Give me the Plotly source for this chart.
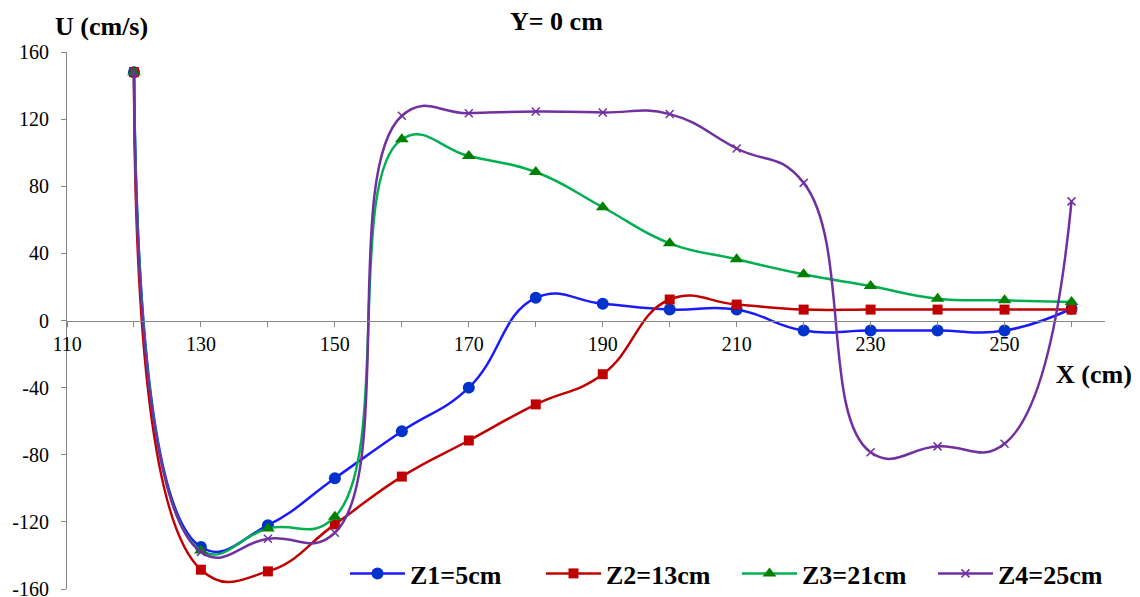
import plotly.graph_objects as go

x_cm = [120, 130, 140, 150, 160, 170, 180, 190, 200, 210, 220, 230, 240, 250, 260]
z1 = [148, -135, -122, -94, -66, -40, 13.5, 10, 6.5, 6.5, -6, -6, -6, -6, 7]
z2 = [148, -148.5, -149.5, -121.5, -93, -71.5, -50, -32, 12.5, 9.5, 6.5, 6.5, 6.5, 6.5, 6.5]
z3 = [148, -137, -124, -117, 108, 98, 88.5, 67.5, 46, 36.5, 27.5, 20.5, 13, 12, 11]
z4 = [148, -138, -130, -126.5, 122, 123.5, 124.5, 124, 123, 102.5, 82, -78.5, -75, -73.5, 71]

series_names = ["Z1=5cm", "Z2=13cm", "Z3=21cm", "Z4=25cm"]
series_values = [z1, z2, z3, z4]
line_colors = ["#1a1aff", "#c00000", "#00b050", "#7030a0"]
marker_colors = ["#0033cc", "#c00000", "#008000", "#7030a0"]
marker_symbols = ["circle", "square", "triangle-up", "x-thin"]
marker_sizes = [12, 10, 12, 8]

y_tickvals = [-160, -120, -80, -40, 0, 40, 80, 120, 160]
y_ticktext = ["-160", "-120", "-80", "-40", "0", "40", "80", "120", "160"]

FONT = "Liberation Serif"

fig = go.Figure()
for name, vals, lc, mc, sym, ms in zip(series_names, series_values, line_colors,
                                      marker_colors, marker_symbols, marker_sizes):
    marker = dict(color=mc, symbol=sym, size=ms)
    if sym == "x-thin":
        marker["line"] = dict(color=mc, width=1.5)
    fig.add_trace(go.Scatter(
        x=x_cm, y=vals, name="<b>" + name + "</b>", mode="lines+markers",
        line=dict(color=lc, width=2.5, shape="spline", smoothing=1.3),
        marker=marker,
    ))

# page body has an 8px margin, so the figure is sized to fit the window
fig.update_layout(
    width=1132, height=589,
    margin=dict(l=59, r=35, t=44, b=8, autoexpand=False),
    paper_bgcolor="white", plot_bgcolor="white",
    showlegend=True,
    legend=dict(
        orientation="h", xref="container", yref="container",
        x=0.2977, xanchor="left", y=-0.007, yanchor="bottom",
        font=dict(family=FONT, size=26, color="black"),
        itemwidth=55, entrywidth=126, entrywidthmode="pixels",
        bgcolor="rgba(0,0,0,0)", tracegroupgap=0,
    ),
    xaxis=dict(
        range=[110, 265], tick0=110, dtick=20,
        anchor="free", position=0.5,
        showline=True, linecolor="#868686", linewidth=1,
        ticks="outside", ticklen=5, tickcolor="#868686",
        minor=dict(dtick=10, tick0=110, ticks="outside", ticklen=5, tickcolor="#868686"),
        showgrid=False, zeroline=False,
        tickfont=dict(family=FONT, size=20, color="black"),
    ),
    yaxis=dict(
        range=[-160, 160], tickmode="array", tickvals=y_tickvals, ticktext=y_ticktext,
        showline=True, linecolor="#868686", linewidth=1,
        ticks="outside", ticklen=5, tickcolor="#868686",
        ticklabelstandoff=8, ticklabeloverflow="allow",
        showgrid=False, zeroline=False,
        tickfont=dict(family=FONT, size=20, color="black"),
    ),
    annotations=[
        dict(text="<b>Y= 0 cm</b>", xref="paper", yref="paper", x=0.472, y=1.0,
             yshift=31, xanchor="center", yanchor="middle", showarrow=False,
             font=dict(family=FONT, size=26, color="black")),
        dict(text="<b>U (cm/s)</b>", xref="paper", yref="paper", x=0.033, y=1.0,
             yshift=26, xanchor="center", yanchor="middle", showarrow=False,
             font=dict(family=FONT, size=26, color="black")),
        dict(text="<b>X (cm)</b>", xref="paper", yref="paper", x=1.0, y=0.5,
             xshift=29, yshift=-54, xanchor="right", yanchor="middle", showarrow=False,
             font=dict(family=FONT, size=26, color="black")),
    ],
)

fig.write_html("out.html")
